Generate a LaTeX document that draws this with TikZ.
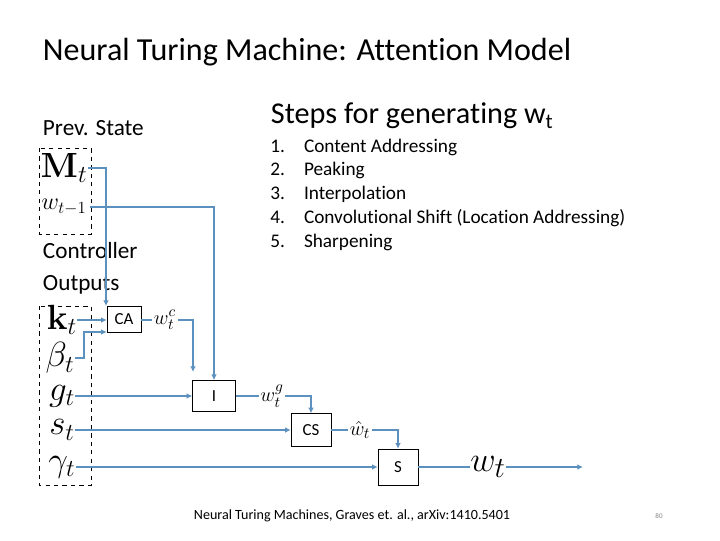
\documentclass[tikz,border=0pt]{standalone}
\usepackage{amsmath}
\usepackage[no-math]{fontspec}
\setmainfont[Ligatures=NoCommon]{Carlito}
\usetikzlibrary{arrows.meta,positioning}
\definecolor{wire}{RGB}{91,144,191}
\tikzset{
  box/.style={draw,inner sep=0pt,font=\fontsize{12}{14}\selectfont},
  lbl/.style={inner sep=0pt,font=\fontsize{23}{25}\selectfont},
  wlbl/.style={inner sep=1pt,font=\fontsize{15}{17}\selectfont},
  line/.style={wire,thick},
  arr/.style={wire,thick,-{Latex[length=4pt,width=4pt]}}
}
\begin{document}
\begin{tikzpicture}[x=0.025cm,y=-0.025cm]
\useasboundingbox (0,0) rectangle (720,540);
% texts
\node[anchor=west,font=\fontsize{22.8}{26}\selectfont] (title) at (38,52) {Neural Turing Machine: Attention Model};
\node[anchor=west,font=\fontsize{16.5}{18}\selectfont] (prev) at (38,128) {Prev. State};
\node[anchor=west,font=\fontsize{16.5}{18}\selectfont] (ctrl) at (38,251) {Controller};
\node[anchor=west,font=\fontsize{16.5}{18}\selectfont] (outs) at (38,285) {Outputs};
\node[anchor=west,font=\fontsize{21.5}{24}\selectfont] (steps) at (266,116) {Steps for generating w\textsubscript{t}};
\node[anchor=north west,inner sep=0pt,font=\fontsize{13.7}{17}\selectfont,align=left] (list) at (270,135)
  {\begin{tabular}{@{}p{24pt}@{}l@{}}
   1. & Content Addressing\\ 2. & Peaking\\ 3. & Interpolation\\
   4. & Convolutional Shift (Location Addressing)\\ 5. & Sharpening\end{tabular}};
\node[font=\fontsize{10}{12}\selectfont] (ref) at (352,516) {Neural Turing Machines, Graves et. al., arXiv:1410.5401};
\node[font=\fontsize{5}{6}\selectfont,gray] (page) at (659,516) {80};
% dashed groups
\draw[dashed] (39,148) rectangle (91,234);
\draw[dashed] (39,306) rectangle (91,485);
% inputs
\node[lbl] (M) at (64,168) {$\mathbf{M}_t$};
\node[lbl,font=\fontsize{17}{19}\selectfont] (wp) at (64,207) {$w_{t-1}$};
\node[lbl] (k) at (62,320) {$\mathbf{k}_t$};
\node[lbl] (b) at (60,358) {$\beta_t$};
\node[lbl] (g) at (62,396) {$g_t$};
\node[lbl] (s) at (62,430) {$s_t$};
\node[lbl] (gam) at (62,467) {$\gamma_t$};
% blocks
\node[box,minimum width=0.85cm,minimum height=0.65cm] (CA) at (124,319) {CA};
\node[box,minimum width=1.07cm,minimum height=0.78cm] (I) at (214,396) {I};
\node[box,minimum width=1cm,minimum height=0.82cm] (CS) at (311,430) {CS};
\node[box,minimum width=1cm,minimum height=0.9cm] (S) at (398,467) {S};
% intermediate weightings
\node[wlbl] (wc) at (165,320) {$w_t^c$};
\node[wlbl] (wg) at (272,396) {$w_t^g$};
\node[wlbl] (wh) at (360,430) {$\hat{w}_t$};
\node[lbl,font=\fontsize{30}{32}\selectfont] (wt) at (488,467) {$w_t$};
\coordinate (out) at (583,467);
% wires
\draw[arr] (M.east) -| (106,306);
\draw[arr] (90,207) -| (I.north);
\draw[arr] (k.east) -- (CA.west |- k.east);
\draw[arr] (b.east) -| (84,332) -- (CA.west |- 0,332);
\draw[line] (CA.east |- wc) -- (wc.west);
\draw[arr] (wc.east) -| (193,372);
\draw[arr] (g.east) -- (I.west |- g.east);
\draw[line] (I.east |- wg) -- (wg.west);
\draw[arr] (wg.east) -| (CS.north);
\draw[arr] (s.east) -- (CS.west |- s.east);
\draw[line] (CS.east |- wh) -- (wh.west);
\draw[arr] (wh.east) -| (S.north);
\draw[arr] (gam.east) -- (S.west |- gam.east);
\draw[line] (S.east |- wt) -- (wt.west);
\draw[arr] (wt.east) -- (out);
\end{tikzpicture}
\end{document}
